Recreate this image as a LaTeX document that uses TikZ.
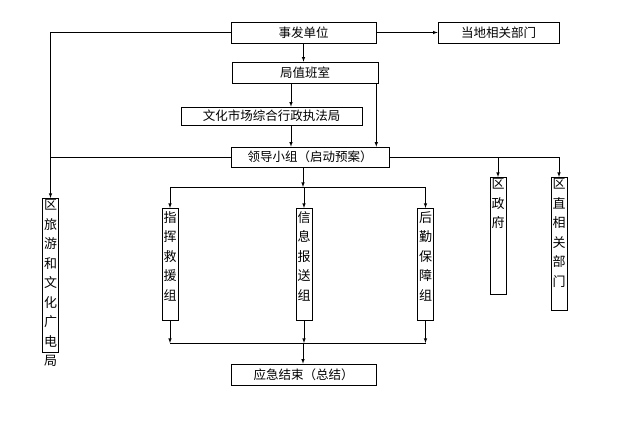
\documentclass[tikz,border=0pt]{standalone}
\usepackage{fontspec}
\setmainfont{Noto Sans CJK SC}
\newcommand{\vtext}[2]{\parbox[t][#1][t]{14pt}{\centering\linespread{1}\fontsize{13pt}{19.5pt}\selectfont #2}}

\begin{document}
\begin{tikzpicture}[x=1pt, y=-1pt, semithick, >=latex,
    hbox/.style={draw, inner sep=0pt, font=\fontsize{12.5pt}{14pt}\selectfont, minimum height=21pt},
    vbox/.style={draw, inner sep=1pt, anchor=north}]
      \useasboundingbox (0,0) rectangle (635,427);
      % top rows
      \node[hbox, minimum width=145pt] (shifa) at (303.5,32.5) {事发单位};
      \node[hbox, minimum width=121pt] (dangdi) at (498.5,32.5) {当地相关部门};
      \node[hbox, minimum width=146pt] (zhiban) at (305,72.5) {局值班室};
      \node[hbox, minimum width=181pt, minimum height=18pt] (wenhua) at (271.5,116) {文化市场综合行政执法局};
      \node[hbox, minimum width=158pt, minimum height=20pt] (lingdao) at (310,157) {领导小组（启动预案）};
      % columns
      \node[vbox] (lvyou) at (50.5,198) {\vtext{152pt}{区\\旅\\游\\和\\文\\化\\广\\电\\局}};
      \node[vbox] (zhihui) at (170,208) {\vtext{110pt}{\vspace{2pt}指\\挥\\救\\援\\组}};
      \node[vbox] (xinxi) at (304,208) {\vtext{110pt}{\vspace{2pt}信\\息\\报\\送\\组}};
      \node[vbox] (houqin) at (425.5,208) {\vtext{110pt}{\vspace{2pt}后\\勤\\保\\障\\组}};
      \node[vbox] (quzf) at (498,177) {\vtext{115pt}{区\\政\\府}};
      \node[vbox] (quzhi) at (559,177) {\vtext{131pt}{区\\直\\相\\关\\部\\门}};
      \node[hbox, minimum width=145pt, minimum height=21pt] (yingji) at (303.5,374.5) {应急结束（总结）};
      % connectors
      \coordinate (mid) at (291,0);
      \coordinate (top) at (303,187);
      \coordinate (bot) at (303,343);
      \draw[->] (shifa) -- (dangdi);
      \draw[->] (shifa) -- (shifa |- zhiban.north);
      \draw[->] (mid |- zhiban.south) -- (mid |- wenhua.north);
      \draw[->] (mid |- wenhua.south) -- (mid |- lingdao.north);
      \draw[->] ([xshift=-2pt]zhiban.south east) -- ([xshift=-2pt]zhiban.south east |- lingdao.north);
      \draw[->] (shifa.west) -| (lvyou.north);
      \draw (lingdao.west) -- (lvyou.north |- lingdao.west);
      \draw[->] (lingdao.east) -| (quzf.north);
      \draw[->] (lingdao.east) -| (quzhi.north);
      \draw[->] (lingdao.south -| top) -- (top);
      \draw (zhihui.north |- top) -- (houqin.north |- top);
      \foreach \g in {zhihui, xinxi, houqin} {
        \draw[->] (\g.north |- top) -- (\g.north);
        \draw[->] (\g.south) -- (\g.south |- bot);
      }
      \draw (zhihui.south |- bot) -- (houqin.south |- bot);
      \draw[->] (bot) -- (bot |- yingji.north);
    \end{tikzpicture}
\end{document}
